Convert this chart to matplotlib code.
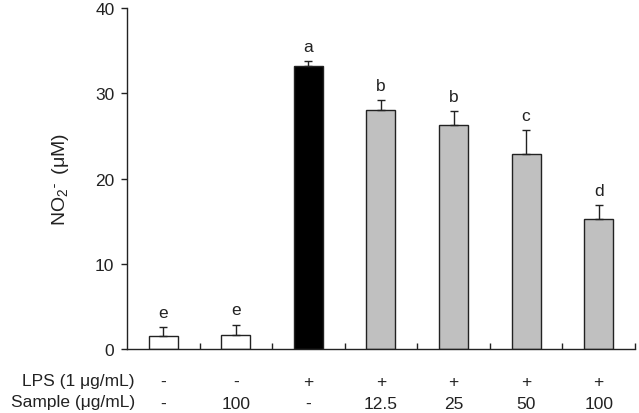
import matplotlib
matplotlib.use("Agg")
import matplotlib.pyplot as plt
import numpy as np

plt.rcParams['font.family'] = ['Liberation Sans', 'DejaVu Sans']
plt.rcParams['mathtext.fontset'] = 'custom'
plt.rcParams['mathtext.rm'] = 'Liberation Sans'
plt.rcParams['mathtext.it'] = 'Liberation Sans'

values = [1.56, 1.64, 33.2, 28.0, 26.3, 22.9, 15.3]
errors = [1.0, 1.2, 0.55, 1.2, 1.6, 2.8, 1.55]
letters = ['e', 'e', 'a', 'b', 'b', 'c', 'd']
colors = ['white', 'white', 'black', '#c0c0c0', '#c0c0c0', '#c0c0c0', '#c0c0c0']
lps_row = ['-', '-', '+', '+', '+', '+', '+']
sample_row = ['-', '100', '-', '12.5', '25', '50', '100']
row_labels = ['LPS (1 \u03bcg/mL)', 'Sample (\u03bcg/mL)']
yticks = [0, 10, 20, 30, 40]

fs = 12.5
fig = plt.figure(figsize=(6.39, 4.14), dpi=100)
ax = fig.add_axes([0.1987, 0.1546, 0.795, 0.8234])

x = np.arange(len(values))
ax.bar(x, values, width=0.4, color=colors, edgecolor='#222222', linewidth=1.0, zorder=2)
ax.errorbar(x, values, yerr=[np.zeros(len(errors)), errors], fmt='none',
            ecolor='#222222', elinewidth=1.0, capsize=3, capthick=1.0, zorder=3)
for xi, v, e, l in zip(x, values, errors, letters):
    ax.text(xi, v + e + 1.75, l, ha='center', va='center', fontsize=fs, color='#222222')

ax.set_xlim(-0.5, len(values) - 0.5)
ax.set_ylim(0, 40)
ax.set_yticks(yticks)
ax.tick_params(axis='y', direction='out', length=4, width=1, labelsize=fs, colors='#222222', pad=5)
ax.set_xticks(np.arange(0.5, len(values), 1.0))
ax.set_xticklabels([])
ax.tick_params(axis='x', direction='in', length=4, width=1, colors='#222222')
for s in ['top', 'right']:
    ax.spines[s].set_visible(False)
for s in ['left', 'bottom']:
    ax.spines[s].set_color('#222222')
    ax.spines[s].set_linewidth(1.0)

ax.set_ylabel('NO$_2\\,{}^{\\bar{}}$  (\u03bcM)', fontsize=14, color='#222222', labelpad=17)

trans = ax.get_xaxis_transform()
for xi, a, b in zip(x, lps_row, sample_row):
    ax.text(xi, -0.095, a, transform=trans, ha='center', va='center', fontsize=fs, color='#222222')
    ax.text(xi, -0.16, b, transform=trans, ha='center', va='center', fontsize=fs, color='#222222')
fig.text(135 / 639, 1 - 382 / 414, row_labels[0], ha='right', va='center', fontsize=fs, color='#222222')
fig.text(135 / 639, 1 - 403 / 414, row_labels[1], ha='right', va='center', fontsize=fs, color='#222222')

fig.savefig('out.png', dpi=100)
